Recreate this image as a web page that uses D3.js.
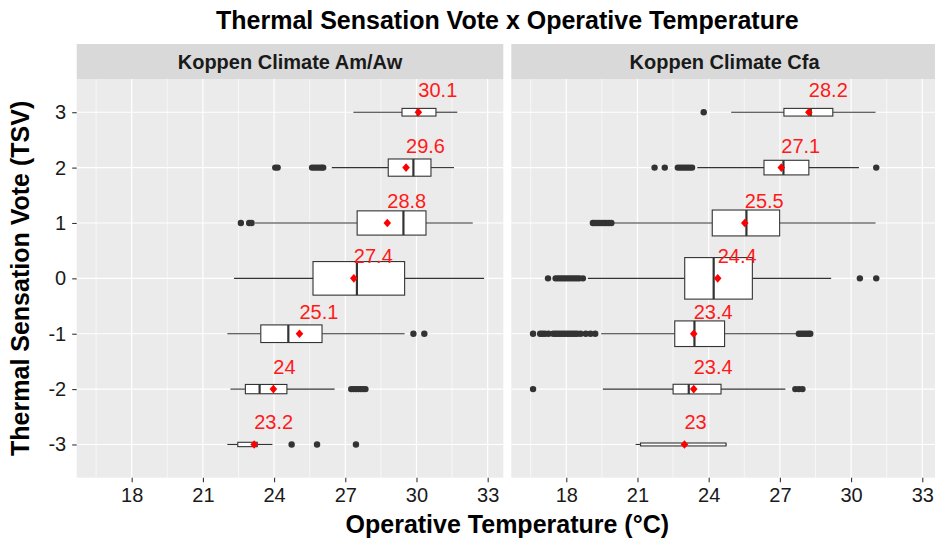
<!DOCTYPE html>
<html>
<head>
<meta charset="utf-8">
<script src="https://cdn.jsdelivr.net/npm/d3@7"></script>
<style>
  html, body { margin: 0; padding: 0; background: #ffffff; }
  svg { display: block; font-family: "Liberation Sans", Arial, sans-serif; }
</style>
</head>
<body>
<svg id="chart" width="935" height="539"></svg>
<script>
// ---------- data ----------
const tsvLevels = [3, 2, 1, 0, -1, -2, -3];
const climates = ["Koppen Climate Am/Aw", "Koppen Climate Cfa"];
const xTicks = [18, 21, 24, 27, 30, 33];

// Koppen Climate Am/Aw (order follows tsvLevels)
const amWhiskerLow  = [27.34, 26.43, 23.20, 22.31, 22.03, 22.16, 22.03];
const amQ1          = [29.39, 28.81, 27.50, 25.64, 23.44, 22.79, 22.47];
const amMedian      = [30.05, 29.87, 29.45, 27.49, 24.60, 23.39, 23.20];
const amQ3          = [30.82, 30.61, 30.40, 29.50, 26.02, 24.54, 23.29];
const amWhiskerHigh = [31.72, 31.58, 32.37, 32.85, 29.50, 26.55, 23.93];
const amMean        = [30.08, 29.56, 28.77, 27.36, 25.07, 23.97, 23.16];
const amCount       = [34, 172, 340, 653, 180, 50, 11];
const amOutliers    = [
  [],
  [24.05, 24.15, 25.60, 25.70, 25.80, 25.90, 26.00, 26.07],
  [22.60, 22.95, 23.05],
  [],
  [29.87, 30.33],
  [27.25, 27.35, 27.45, 27.55, 27.65, 27.75, 27.85],
  [24.74, 25.81, 27.45]
];

// Koppen Climate Cfa
const cfaWhiskerLow  = [24.95, 23.52, 19.94, 18.91, 19.47, 19.54, 20.92];
const cfaQ1          = [27.17, 26.33, 24.15, 22.99, 22.57, 22.50, 21.13];
const cfaMedian      = [28.30, 27.15, 25.59, 24.21, 23.40, 23.16, 23.00];
const cfaQ3          = [29.23, 28.22, 26.99, 25.84, 24.67, 24.52, 24.73];
const cfaWhiskerHigh = [31.03, 30.33, 31.03, 29.16, 27.69, 27.23, 24.75];
const cfaMean        = [28.22, 27.06, 25.52, 24.38, 23.37, 23.37, 22.98];
const cfaCount       = [34, 124, 389, 1000, 380, 54, 5];
const cfaOutliers    = [
  [23.79],
  [21.72, 22.15, 22.70, 22.80, 22.90, 23.00, 23.10, 23.20, 23.30, 31.06],
  [19.12, 19.20, 19.30, 19.40, 19.50, 19.60, 19.70, 19.80, 19.90],
  [17.23, 17.55, 17.65, 17.75, 17.85, 17.95, 18.05, 18.15, 18.25, 18.35, 18.45, 18.55, 18.70, 30.37, 31.06],
  [16.60, 16.90, 17.00, 17.10, 17.25, 17.45, 17.55, 17.65, 17.75, 17.85, 17.95, 18.05, 18.15, 18.25, 18.35, 18.45, 18.60, 18.82, 19.02, 19.22, 27.80, 27.90, 28.00, 28.10, 28.20, 28.28],
  [16.60, 27.65, 27.80, 27.95],
  []
];

// ---------- build per-panel tables ----------
function buildRows(wl, q1, med, q3, wh, mean, n, out) {
  return tsvLevels.map((t, i) => ({
    tsv: t, wl: wl[i], q1: q1[i], med: med[i], q3: q3[i], wh: wh[i],
    mean: mean[i], n: n[i], out: out[i]
  }));
}
const panels = [
  { title: climates[0], rows: buildRows(amWhiskerLow, amQ1, amMedian, amQ3, amWhiskerHigh, amMean, amCount, amOutliers) },
  { title: climates[1], rows: buildRows(cfaWhiskerLow, cfaQ1, cfaMedian, cfaQ3, cfaWhiskerHigh, cfaMean, cfaCount, cfaOutliers) }
];
const nMax = d3.max(panels.flatMap(p => p.rows.map(r => r.n)));

// ---------- layout ----------
const svg = d3.select("#chart");
const panelLeft = 76.7, panelW = 426.6, panelGap = 8.0;
const stripTop = 44, stripH = 35;
const plotTop = stripTop + stripH, plotBottom = 477.7;

const x = d3.scaleLinear().domain([15.683, 33.658]).range([0, panelW]);
const y = d3.scalePoint().domain(tsvLevels.map(String)).range([plotTop, plotBottom]).padding(0.6);
const step = y.step();
const boxH = d3.scaleSqrt().domain([0, nMax]).range([0, 0.75 * step]);
const minorTicks = d3.range(16.5, 34, 3);

const fmt = v => String(+v.toFixed(1));
const dark = "#333333";

panels.forEach((p, pi) => {
  const ox = panelLeft + pi * (panelW + panelGap);
  const g = svg.append("g").attr("transform", `translate(${ox},0)`);

  // strip
  g.append("rect").attr("x", 0).attr("y", stripTop).attr("width", panelW).attr("height", stripH).attr("fill", "#d9d9d9");
  g.append("text").attr("x", panelW / 2).attr("y", stripTop + stripH / 2 + 7)
    .attr("text-anchor", "middle").attr("font-size", 20).attr("font-weight", "bold").attr("fill", "#1a1a1a")
    .text(p.title);

  // panel background
  g.append("rect").attr("x", 0).attr("y", plotTop).attr("width", panelW).attr("height", plotBottom - plotTop).attr("fill", "#ebebeb");

  // minor grid
  g.selectAll(".minor").data(minorTicks).enter().append("line")
    .attr("x1", d => x(d)).attr("x2", d => x(d)).attr("y1", plotTop).attr("y2", plotBottom)
    .attr("stroke", "#ffffff").attr("stroke-width", 0.6);
  // major grid
  g.selectAll(".majx").data(xTicks).enter().append("line")
    .attr("x1", d => x(d)).attr("x2", d => x(d)).attr("y1", plotTop).attr("y2", plotBottom)
    .attr("stroke", "#ffffff").attr("stroke-width", 1.2);
  g.selectAll(".majy").data(tsvLevels).enter().append("line")
    .attr("x1", 0).attr("x2", panelW).attr("y1", d => y(String(d))).attr("y2", d => y(String(d)))
    .attr("stroke", "#ffffff").attr("stroke-width", 1.2);

  // x axis
  const xa = g.append("g").attr("transform", `translate(0,${plotBottom})`)
    .call(d3.axisBottom(x).tickValues(xTicks).tickSize(4.5).tickPadding(6).tickFormat(d3.format("d")));
  xa.select(".domain").remove();
  xa.selectAll("line").attr("stroke", dark).attr("stroke-width", 1.1);
  xa.selectAll("text").attr("font-size", 20).attr("fill", "#1a1a1a").attr("font-family", "Liberation Sans, Arial, sans-serif");

  // whiskers
  const rows = g.selectAll(".row").data(p.rows).enter().append("g");
  rows.append("line").attr("x1", d => x(d.wl)).attr("x2", d => x(d.q1))
    .attr("y1", d => y(String(d.tsv))).attr("y2", d => y(String(d.tsv)))
    .attr("stroke", dark).attr("stroke-width", 1.1);
  rows.append("line").attr("x1", d => x(d.q3)).attr("x2", d => x(d.wh))
    .attr("y1", d => y(String(d.tsv))).attr("y2", d => y(String(d.tsv)))
    .attr("stroke", dark).attr("stroke-width", 1.1);
  // boxes
  rows.append("rect")
    .attr("x", d => x(d.q1)).attr("width", d => x(d.q3) - x(d.q1))
    .attr("y", d => y(String(d.tsv)) - boxH(d.n) / 2).attr("height", d => boxH(d.n))
    .attr("fill", "#ffffff").attr("stroke", dark).attr("stroke-width", 1.1);
  // medians
  rows.append("line").attr("x1", d => x(d.med)).attr("x2", d => x(d.med))
    .attr("y1", d => y(String(d.tsv)) - boxH(d.n) / 2).attr("y2", d => y(String(d.tsv)) + boxH(d.n) / 2)
    .attr("stroke", dark).attr("stroke-width", 2.2);
  // outliers
  rows.each(function (d) {
    d3.select(this).selectAll("circle").data(d.out).enter().append("circle")
      .attr("cx", v => x(v)).attr("cy", y(String(d.tsv))).attr("r", 3.2).attr("fill", dark);
  });
  // mean diamonds
  rows.append("path")
    .attr("d", d => {
      const cx = x(d.mean), cy = y(String(d.tsv));
      return `M${cx},${cy - 4.3}L${cx + 3.8},${cy}L${cx},${cy + 4.3}L${cx - 3.8},${cy}Z`;
    })
    .attr("fill", "#ff0000");
  // mean labels
  rows.append("text")
    .attr("x", d => x(d.mean)).attr("y", d => y(String(d.tsv)) - 15)
    .attr("text-anchor", "start").attr("font-size", 20).attr("fill", "#ff1a1a")
    .text(d => fmt(d.mean));
});

// y axis (left panel only)
const ya = svg.append("g").attr("transform", `translate(${panelLeft},0)`)
  .call(d3.axisLeft(y).tickSize(4.5).tickPadding(6));
ya.select(".domain").remove();
ya.selectAll("line").attr("stroke", dark).attr("stroke-width", 1.1);
ya.selectAll("text").attr("font-size", 20).attr("fill", "#1a1a1a").attr("font-family", "Liberation Sans, Arial, sans-serif");

// titles
const centerX = panelLeft + (2 * panelW + panelGap) / 2;
svg.append("text").attr("x", centerX).attr("y", 29).attr("text-anchor", "middle")
  .attr("font-size", 25).attr("font-weight", "bold").attr("fill", "#000")
  .text("Thermal Sensation Vote x Operative Temperature");
svg.append("text").attr("x", centerX).attr("y", 533).attr("text-anchor", "middle")
  .attr("font-size", 25).attr("font-weight", "bold").attr("fill", "#000")
  .text("Operative Temperature (°C)");
svg.append("text").attr("transform", `translate(29,${(plotTop + plotBottom) / 2}) rotate(-90)`)
  .attr("text-anchor", "middle").attr("font-size", 25).attr("font-weight", "bold").attr("fill", "#000")
  .text("Thermal Sensation Vote (TSV)");
</script>
</body>
</html>
